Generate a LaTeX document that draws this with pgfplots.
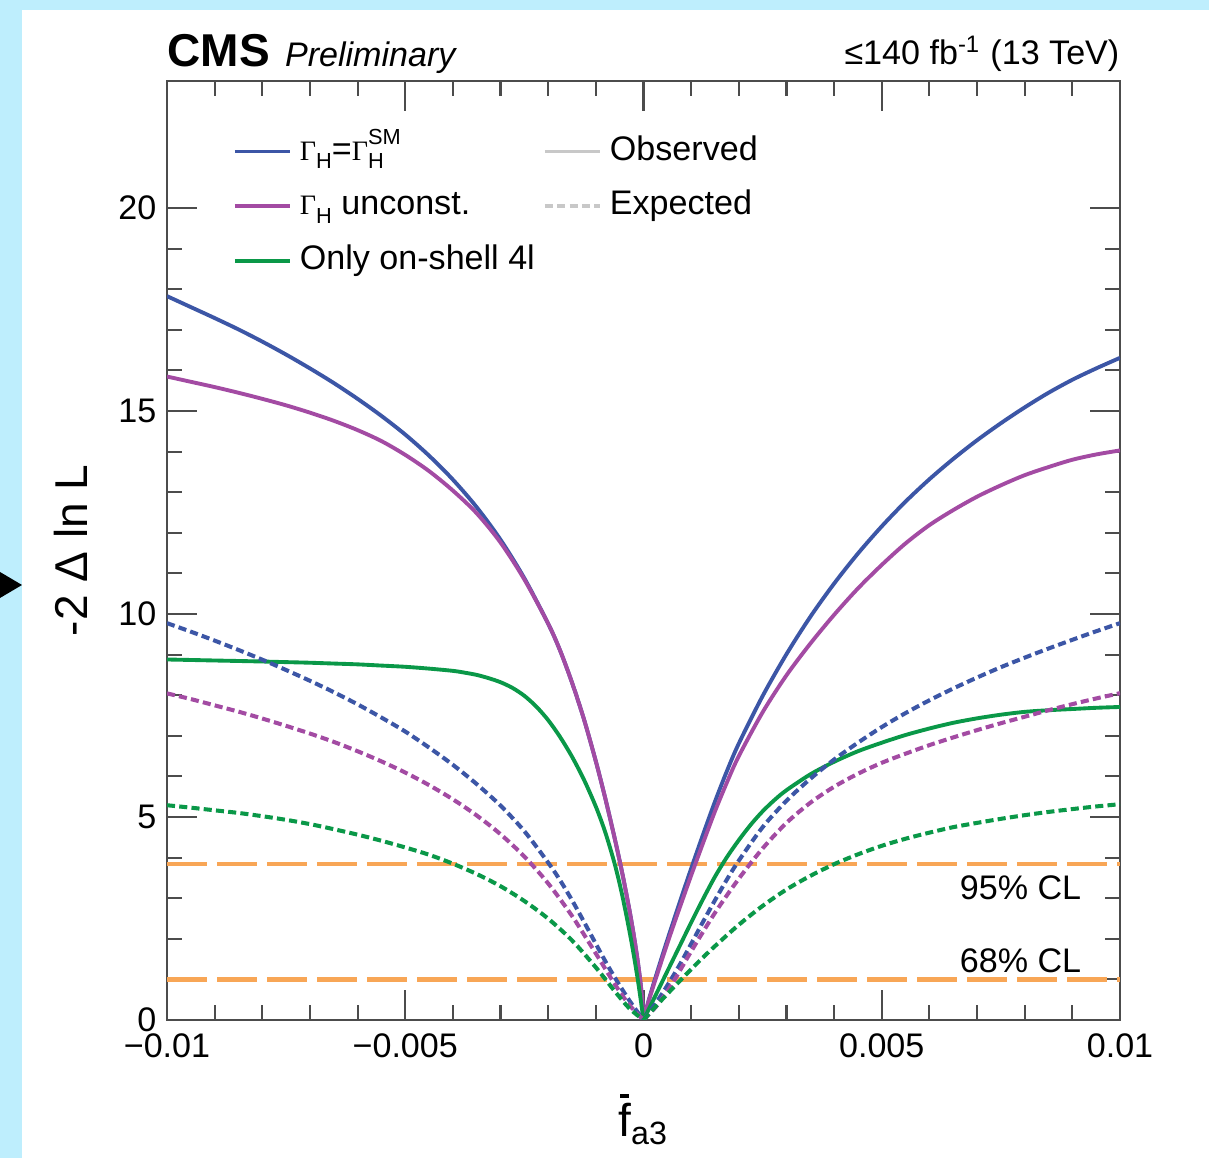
\documentclass[border=0pt]{standalone}
\usepackage{fontspec}
\setmainfont{Liberation Sans}
\newfontfamily\greekserif{Liberation Serif}
\usepackage{pgfplots}
\pgfplotsset{compat=1.18}

\definecolor{bgblue}{RGB}{190,238,253}
\definecolor{cmsblue}{RGB}{60,86,166}
\definecolor{cmspurple}{RGB}{163,75,163}
\definecolor{cmsgreen}{RGB}{10,152,72}
\definecolor{clorange}{RGB}{248,166,86}
\definecolor{legray}{RGB}{200,200,200}

\newcommand{\tickfont}{\fontsize{9.7}{11.6}\selectfont}
\newcommand{\bigfont}{\fontsize{13.1}{15.5}\selectfont}
\newcommand{\smallidx}{\fontsize{6.2}{6.5}\selectfont}
\newcommand{\Gam}{{\fontsize{8}{8.5}\greekserif Γ}}
\newcommand{\subH}{\raisebox{-2.4pt}{\smallidx H}}
\newcommand{\supSM}{\raisebox{4.6pt}{\smallidx SM}}
\newcommand{\barf}{\makebox[0pt][l]{\hspace{0.04em}\raisebox{0.84em}{\rule{0.2em}{0.085em}}}f}

\tikzset{
  obs/.style={line width=1.1pt},
  expd/.style={line width=1.15pt, dash pattern=on 2.3pt off 1.2pt},
}

\begin{document}
\begin{tikzpicture}
% page background and panel
\fill[bgblue] (0,0) rectangle (12.09cm,11.58cm);
\fill[white] (0.22cm,0) rectangle (12.09cm,11.48cm);
\fill[black] (0,5.86cm) -- (0.22cm,5.73cm) -- (0,5.60cm) -- cycle;

\begin{axis}[
  at={(1.67cm,1.38cm)}, anchor=south west,
  width=9.53cm, height=9.39cm, scale only axis,
  xmin=-0.01, xmax=0.01, ymin=0, ymax=23.13,
  clip mode=individual,
  axis line style={black!70, line width=0.6pt},
  every tick/.style={black!70, line width=0.6pt},
  tick align=inside,
  major tick length=0.3cm, minor tick length=0.15cm,
  xtick={-0.01,-0.005,0,0.005,0.01},
  xticklabels={−0.01,−0.005,0,0.005,0.01},
  minor x tick num=4,
  ytick={0,5,10,15,20},
  yticklabels={0,5,10,15,20},
  minor y tick num=4,
  scaled x ticks=false,
  tick label style={font=\tickfont},
  xticklabel style={anchor=north, inner sep=0pt, yshift=-0.13cm},
  yticklabel style={anchor=east, inner sep=0pt, xshift=-0.1cm},
  legend columns=2,
  legend cell align=left,
  legend image code/.code={\draw[#1] (0cm,0cm) -- (0.55cm,0cm);},
  legend style={at={(rel axis cs:0.0693,0.9418)}, anchor=north west,
    draw=none, fill=none, inner sep=0pt, outer sep=0pt,
    column sep=0.08cm, row sep=0.23cm, font=\tickfont,
    nodes={inner sep=0pt, text height=7pt, text depth=2pt}},
]

% legend entries
\addlegendimage{cmsblue, obs}
\addlegendentry{\Gam\subH=\Gam\rlap{\supSM}\subH}
\addlegendimage{legray, obs}
\addlegendentry{Observed}
\addlegendimage{cmspurple, obs}
\addlegendentry{\Gam\subH\ unconst.}
\addlegendimage{legray, expd}
\addlegendentry{Expected}
\addlegendimage{cmsgreen, obs}
\addlegendentry{Only on-shell 4l}

% confidence level thresholds
\addplot[forget plot, clorange, line width=1.2pt, dash pattern=on 0.4cm off 0.1cm]
  coordinates {(-0.01,3.84) (0.01,3.84)};
\addplot[forget plot, clorange, line width=1.2pt, dash pattern=on 0.4cm off 0.1cm]
  coordinates {(-0.01,1.0) (0.01,1.0)};

% observed, Gamma_H = SM
\addplot[forget plot, cmsblue, obs, smooth] coordinates {
 (-0.0100,17.83) (-0.0095,17.56) (-0.0090,17.29) (-0.0085,17.01) (-0.0080,16.71)
 (-0.0075,16.39) (-0.0070,16.05) (-0.0065,15.69) (-0.0060,15.30) (-0.0055,14.88)
 (-0.0050,14.42) (-0.0045,13.90) (-0.0040,13.31) (-0.0035,12.63) (-0.0030,11.83)
 (-0.0025,10.88) (-0.0020,9.76) (-0.00175,9.10) (-0.0015,8.31) (-0.00125,7.41)
 (-0.0010,6.37) (-0.0008,5.45) (-0.0006,4.45) (-0.00045,3.64) (-0.0003,2.74)
 (-0.0002,2.06) (-0.00012,1.44) (-0.00006,0.89) (-0.00002,0.41) (0,0)};
\addplot[forget plot, cmsblue, obs, smooth] coordinates {
 (0,0) (0.00002,0.10) (0.00006,0.28) (0.00012,0.53) (0.0002,0.85) (0.0003,1.23)
 (0.00045,1.79) (0.0006,2.33) (0.0008,3.04) (0.0010,3.73) (0.00125,4.57)
 (0.0015,5.38) (0.00175,6.13) (0.0020,6.81) (0.0025,7.98) (0.0030,9.01)
 (0.0035,9.93) (0.0040,10.75) (0.0045,11.49) (0.0050,12.16) (0.0055,12.77)
 (0.0060,13.32) (0.0065,13.82) (0.0070,14.28) (0.0075,14.70) (0.0080,15.09)
 (0.0085,15.45) (0.0090,15.77) (0.0095,16.05) (0.0100,16.31)};

% observed, Gamma_H unconstrained
\addplot[forget plot, cmspurple, obs, smooth] coordinates {
 (-0.0100,15.85) (-0.0095,15.72) (-0.0090,15.59) (-0.0085,15.45) (-0.0080,15.30)
 (-0.0075,15.14) (-0.0070,14.96) (-0.0065,14.76) (-0.0060,14.53) (-0.0055,14.26)
 (-0.0050,13.92) (-0.0045,13.52) (-0.0040,13.04) (-0.0035,12.48) (-0.0030,11.76)
 (-0.0025,10.85) (-0.0020,9.76) (-0.00175,9.10) (-0.0015,8.31) (-0.00125,7.41)
 (-0.0010,6.37) (-0.0008,5.45) (-0.0006,4.45) (-0.00045,3.64) (-0.0003,2.74)
 (-0.0002,2.06) (-0.00012,1.44) (-0.00006,0.89) (-0.00002,0.41) (0,0)};
\addplot[forget plot, cmspurple, obs, smooth] coordinates {
 (0,0) (0.00002,0.095) (0.00006,0.27) (0.00012,0.51) (0.0002,0.81) (0.0003,1.17)
 (0.00045,1.71) (0.0006,2.23) (0.0008,2.90) (0.0010,3.56) (0.00125,4.36)
 (0.0015,5.14) (0.00175,5.85) (0.0020,6.50) (0.0025,7.58) (0.0030,8.49)
 (0.0035,9.27) (0.0040,9.98) (0.0045,10.63) (0.0050,11.21) (0.0055,11.74)
 (0.0060,12.19) (0.0065,12.56) (0.0070,12.89) (0.0075,13.17) (0.0080,13.42)
 (0.0085,13.62) (0.0090,13.80) (0.0095,13.93) (0.0100,14.03)};

% observed, on-shell 4l only
\addplot[forget plot, cmsgreen, obs, smooth] coordinates {
 (-0.0100,8.88) (-0.0095,8.868) (-0.0090,8.855) (-0.0085,8.843) (-0.0080,8.83)
 (-0.0075,8.815) (-0.0070,8.80) (-0.0065,8.78) (-0.0060,8.76) (-0.0055,8.73)
 (-0.0050,8.70) (-0.0045,8.655) (-0.0040,8.60) (-0.00375,8.555) (-0.0035,8.50)
 (-0.00325,8.42) (-0.0030,8.32) (-0.00275,8.18) (-0.0025,7.985) (-0.00225,7.72)
 (-0.0020,7.385) (-0.00175,6.97) (-0.0015,6.485) (-0.00125,5.92)
 (-0.0010,5.255) (-0.0008,4.615) (-0.0006,3.825) (-0.00045,3.09) (-0.0003,2.22)
 (-0.0002,1.57) (-0.0001,0.84) (0,0)};
\addplot[forget plot, cmsgreen, obs, smooth] coordinates {
 (0,0) (0.00025,0.60) (0.0005,1.20) (0.00075,1.80) (0.0010,2.40) (0.00125,2.98)
 (0.0015,3.53) (0.00175,4.01) (0.0020,4.43) (0.00225,4.81) (0.0025,5.14)
 (0.00275,5.42) (0.0030,5.66) (0.0035,6.05) (0.0040,6.36) (0.0045,6.62)
 (0.0050,6.83) (0.0055,7.02) (0.0060,7.18) (0.0065,7.32) (0.0070,7.43)
 (0.0075,7.52) (0.0080,7.59) (0.0085,7.63) (0.0090,7.66) (0.0095,7.69) (0.0100,7.71)};

% expected, Gamma_H = SM
\addplot[forget plot, cmsblue, expd, smooth] coordinates {
 (-0.0100,9.775) (-0.0095,9.565) (-0.0090,9.345) (-0.0085,9.115) (-0.0080,8.875)
 (-0.0075,8.62) (-0.0070,8.355) (-0.0065,8.075) (-0.0060,7.775) (-0.0055,7.45)
 (-0.0050,7.105) (-0.0045,6.71) (-0.0040,6.285) (-0.0035,5.81) (-0.0030,5.28)
 (-0.0025,4.65) (-0.0020,3.875) (-0.00175,3.44) (-0.0015,2.95) (-0.00125,2.42)
 (-0.0010,1.875) (-0.00075,1.34) (-0.0005,0.85) (-0.00025,0.40) (0,0)};
\addplot[forget plot, cmsblue, expd, smooth] coordinates {
 (0,0) (0.00025,0.40) (0.0005,0.85) (0.00075,1.34) (0.0010,1.875) (0.00125,2.42)
 (0.0015,2.95) (0.00175,3.46) (0.0020,3.925) (0.0025,4.75) (0.0030,5.40)
 (0.0035,5.94) (0.0040,6.415) (0.0045,6.83) (0.0050,7.215) (0.0055,7.56)
 (0.0060,7.875) (0.0065,8.165) (0.0070,8.435) (0.0075,8.69) (0.0080,8.925)
 (0.0085,9.15) (0.0090,9.365) (0.0095,9.575) (0.0100,9.775)};

% expected, Gamma_H unconstrained
\addplot[forget plot, cmspurple, expd, smooth] coordinates {
 (-0.0100,8.045) (-0.0095,7.905) (-0.0090,7.75) (-0.0085,7.595) (-0.0080,7.425)
 (-0.0075,7.245) (-0.0070,7.055) (-0.0065,6.85) (-0.0060,6.62) (-0.0055,6.37)
 (-0.0050,6.095) (-0.0045,5.785) (-0.0040,5.435) (-0.0035,5.0375) (-0.0030,4.575)
 (-0.0025,4.025) (-0.0020,3.3625) (-0.0015,2.5625) (-0.0010,1.6375) (-0.0006,0.8775)
 (-0.0003,0.375) (0,0)};
\addplot[forget plot, cmspurple, expd, smooth] coordinates {
 (0,0) (0.0003,0.38) (0.0006,0.89) (0.0010,1.69) (0.0015,2.64) (0.0020,3.48)
 (0.0025,4.225) (0.0030,4.855) (0.0035,5.35) (0.0040,5.745) (0.0045,6.065)
 (0.0050,6.335) (0.0055,6.56) (0.0060,6.77) (0.0065,6.96) (0.0070,7.14)
 (0.0075,7.31) (0.0080,7.47) (0.0085,7.63) (0.0090,7.78) (0.0095,7.92) (0.0100,8.05)};

% expected, on-shell 4l only
\addplot[forget plot, cmsgreen, expd, smooth] coordinates {
 (-0.0100,5.29) (-0.0095,5.23) (-0.0090,5.165) (-0.0085,5.10) (-0.0080,5.02)
 (-0.0075,4.93) (-0.0070,4.825) (-0.0065,4.70) (-0.0060,4.565) (-0.0055,4.415)
 (-0.0050,4.25) (-0.0045,4.07) (-0.0040,3.85) (-0.0035,3.595) (-0.0030,3.295)
 (-0.0025,2.93) (-0.0020,2.495) (-0.0015,1.96) (-0.0010,1.295) (-0.0006,0.705)
 (-0.0003,0.29) (0,0)};
\addplot[forget plot, cmsgreen, expd, smooth] coordinates {
 (0,0) (0.0003,0.39) (0.0006,0.765) (0.0009,1.13) (0.0012,1.485) (0.0015,1.82)
 (0.0020,2.345) (0.0025,2.81) (0.0030,3.214) (0.0035,3.549) (0.0040,3.837)
 (0.0045,4.08) (0.0050,4.29) (0.0055,4.465) (0.0060,4.615) (0.0065,4.75)
 (0.0070,4.855) (0.0075,4.955) (0.0080,5.045) (0.0085,5.125) (0.0090,5.195)
 (0.0095,5.26) (0.0100,5.315)};

% threshold labels
\node[anchor=base east, inner sep=0pt, font=\tickfont] at (axis cs:0.0092,2.96) {95\% CL};
\node[anchor=base east, inner sep=0pt, font=\tickfont] at (axis cs:0.0092,1.18) {68\% CL};

% headers
\node[anchor=base west, inner sep=0pt, yshift=0.14cm] at (rel axis cs:0,1)
  {{\bigfont\bfseries CMS}\hspace{0.15cm}{\tickfont\itshape Preliminary}};
\node[anchor=base east, inner sep=0pt, yshift=0.16cm] at (rel axis cs:1,1)
  {\tickfont ≤140 fb\textsuperscript{-1} (13 TeV)};

% axis titles
\node[anchor=base, inner sep=0pt] at (rel axis cs:0.5,-0.1246)
  {\bigfont\barf\textsubscript{a3}};
\node[rotate=90, anchor=base, inner sep=0pt] at (rel axis cs:-0.0839,0.5)
  {\bigfont -2 Δ ln L};
\end{axis}
\end{tikzpicture}
\end{document}
